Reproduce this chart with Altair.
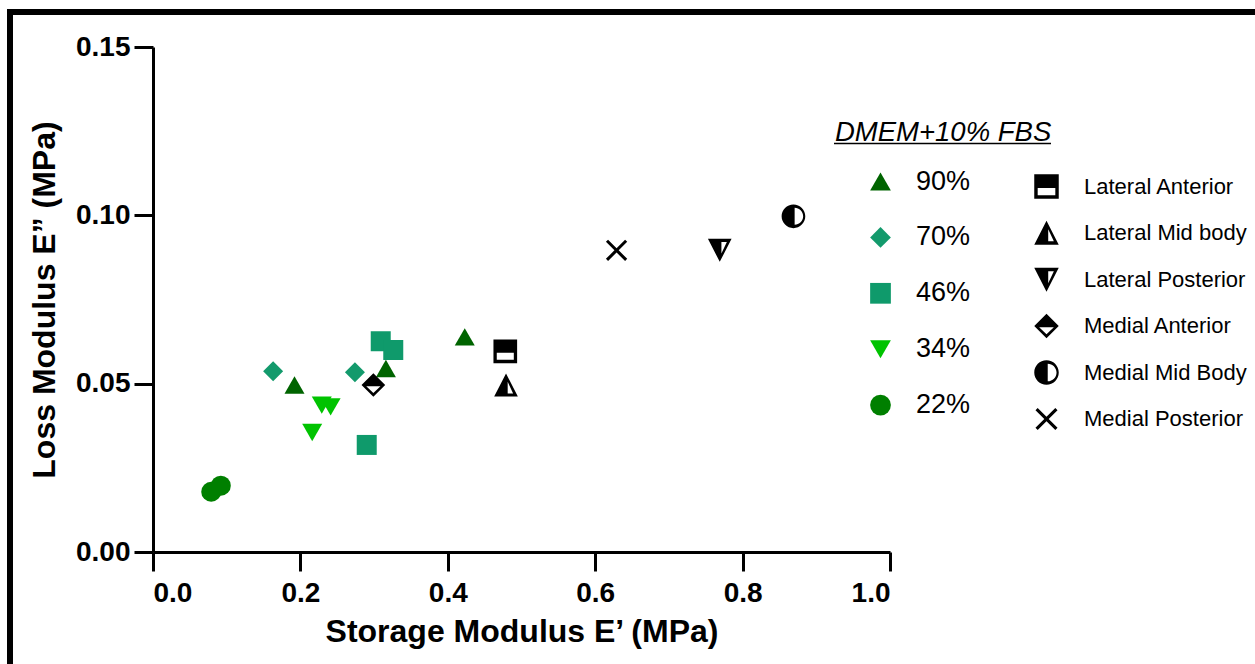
import altair as alt
import pandas as pd

# ---------------- data ----------------
# DMEM+10% FBS groups (green symbols)
green_group = ["90%", "90%", "90%", "70%", "70%", "46%", "46%", "46%",
               "34%", "34%", "34%", "22%", "22%"]
green_x = [0.192, 0.316, 0.423, 0.163, 0.274, 0.309, 0.326, 0.290,
           0.216, 0.229, 0.241, 0.079, 0.092]
green_y = [0.0496, 0.0545, 0.0639, 0.0537, 0.0534, 0.0626, 0.0600, 0.0318,
           0.0355, 0.0436, 0.0431, 0.0179, 0.0197]

group_order = ["90%", "70%", "46%", "34%", "22%"]
group_colors = ["#006400", "#139a6c", "#0f9a6b", "#00c300", "#007f00"]
group_shapes = ["triangle-up", "diamond", "square", "triangle-down", "circle"]

# Meniscus locations (black symbols)
locations = ["Lateral Anterior", "Lateral Mid body", "Lateral Posterior",
             "Medial Anterior", "Medial Mid Body", "Medial Posterior"]
loc_x = [0.478, 0.479, 0.769, 0.299, 0.869, 0.629]
loc_y = [0.0596, 0.0495, 0.0897, 0.0496, 0.0997, 0.0896]

x_ticks = [0.0, 0.2, 0.4, 0.6, 0.8, 1.0]
y_ticks = [0.0, 0.05, 0.10, 0.15]

# half-filled marker outlines (compound paths: outer shape minus white hole)
loc_paths = [
    # square, top half black
    "M-1,-1L1,-1L1,1L-1,1Z M-0.72,0.12L-0.72,0.72L0.72,0.72L0.72,0.12Z",
    # triangle up, left half black
    "M0,-1L1,0.95L-1,0.95Z M0.14,-0.3L0.14,0.68L0.6,0.68Z",
    # triangle down, left half black
    "M-1,-0.95L1,-0.95L0,1Z M0.14,-0.68L0.14,0.3L0.6,-0.68Z",
    # diamond, top half black
    "M0,-1L1,0L0,1L-1,0Z M-0.6,0.1L0,0.68L0.6,0.1Z",
    # circle, left half black
    "M-1,0A1,1 0 1,0 1,0A1,1 0 1,0 -1,0Z M0.1,-0.72A0.72,0.72 0 0,1 0.1,0.72Z",
    # X cross
    "M-0.9,-0.72L-0.72,-0.9L0,-0.18L0.72,-0.9L0.9,-0.72L0.18,0L0.9,0.72L0.72,0.9L0,0.18L-0.72,0.9L-0.9,0.72L-0.18,0Z",
]

gdf = pd.DataFrame({"x": green_x, "y": green_y, "group": green_group})
bdf = pd.DataFrame({"x": loc_x, "y": loc_y, "loc": locations})
one = pd.DataFrame({"t": ["DMEM+10% FBS"]})

FONT = "Liberation Sans"
PL, PT = 153, 47

x_scale = alt.Scale(domain=[0, 1], nice=False, zero=False)
y_scale = alt.Scale(domain=[0, 0.15], nice=False, zero=False)

x_axis = alt.Axis(title="Storage Modulus E’ (MPa)", values=x_ticks, format=".1f",
                  labelPadding=8, titlePadding=9)
y_axis = alt.Axis(title="Loss Modulus E” (MPa)", values=y_ticks, format=".2f",
                  labelPadding=4, titlePadding=14)

green_legend = alt.Legend(
    title=None, orient="none", legendX=714, legendY=121, padding=0,
    labelFont=FONT, labelFontSize=27, labelColor="black", labelOffset=22,
    labelLimit=0, rowPadding=27.9, symbolSize=430, symbolStrokeWidth=0,
    symbolOpacity=1,
)

green = alt.Chart(gdf).mark_point(filled=True, size=400, opacity=1, strokeWidth=0).encode(
    x=alt.X("x:Q", scale=x_scale, axis=x_axis),
    y=alt.Y("y:Q", scale=y_scale, axis=y_axis),
    color=alt.Color("group:N", scale=alt.Scale(domain=group_order, range=group_colors),
                    legend=green_legend),
    shape=alt.Shape("group:N", scale=alt.Scale(domain=group_order, range=group_shapes),
                    legend=green_legend),
)

black = alt.Chart(bdf).mark_point(filled=True, size=560, opacity=1, color="black",
                                  strokeWidth=0).encode(
    x=alt.X("x:Q"),
    y=alt.Y("y:Q"),
    shape=alt.Shape("loc:N", scale=alt.Scale(domain=locations, range=loc_paths),
                    legend=alt.Legend(
                        title=None, orient="none", legendX=881, legendY=127, padding=0,
                        labelFont=FONT, labelFontSize=22, labelColor="black",
                        labelOffset=25, labelLimit=0, rowPadding=21.5, symbolSize=600,
                        symbolFillColor="black", symbolStrokeWidth=0, symbolOpacity=1)),
)

title_txt = alt.Chart(one).mark_text(
    align="left", baseline="alphabetic", font=FONT, fontSize=27.5,
    fontStyle="italic", color="black"
).encode(text="t:N", x=alt.value(835 - PL), y=alt.value(141 - PT))

underline = alt.Chart(one).mark_rule(color="black", strokeWidth=1.5).encode(
    x=alt.value(834 - PL), x2=alt.value(1051 - PL), y=alt.value(143.5 - PT))

frame = alt.Chart(one).mark_rect(fill="transparent", stroke="black", strokeWidth=6).encode(
    x=alt.value(10 - PL), x2=alt.value(1400), y=alt.value(12 - PT), y2=alt.value(800))

chart = alt.layer(green, black, title_txt, underline, frame).resolve_scale(
    color="independent", shape="independent"
).properties(
    width=737, height=505,
    autosize=alt.AutoSizeParams(type="none"),
    padding={"left": PL, "top": PT, "right": 1255 - PL - 737, "bottom": 664 - PT - 505},
    background="white",
).configure_axis(
    grid=False, domainColor="black", domainWidth=3, tickColor="black", tickWidth=3,
    tickSize=19, labelFont=FONT, labelFontSize=28, labelFontWeight="bold",
    labelColor="black", titleFont=FONT, titleFontSize=32, titleFontWeight="bold",
    titleColor="black",
).configure_view(strokeWidth=0)

chart.save("out.html", embed_options={"renderer": "svg", "actions": False})
